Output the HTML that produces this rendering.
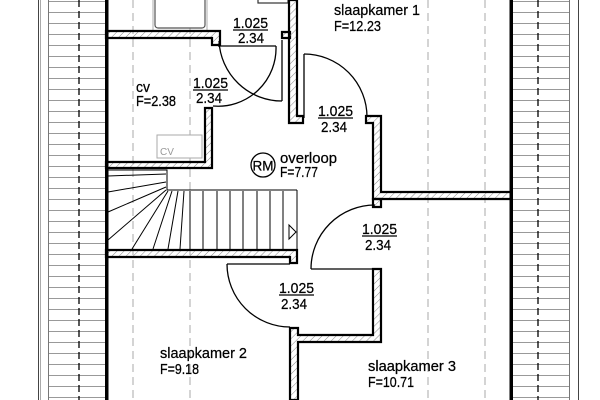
<!DOCTYPE html>
<html><head><meta charset="utf-8"><style>
html,body{margin:0;padding:0;background:#fff}
svg{display:block}
text{font-family:"Liberation Sans",sans-serif;font-size:15px;fill:#000;stroke:#000;stroke-width:0.25}
</style></head><body>
<svg width="600" height="400" viewBox="0 0 600 400" xmlns="http://www.w3.org/2000/svg">
<defs>
<pattern id="rib" width="10" height="11" patternUnits="userSpaceOnUse" y="1">
<line x1="0" y1="0.5" x2="10" y2="0.5" stroke="#999" stroke-width="1"/>
</pattern>
<pattern id="h" width="5" height="5" patternUnits="userSpaceOnUse" patternTransform="rotate(45)">
<line x1="0" y1="0" x2="0" y2="5" stroke="#888" stroke-width="1"/>
</pattern>
</defs>
<rect width="600" height="400" fill="#fff"/>
<line x1="38.5" y1="0" x2="38.5" y2="400" stroke="#444" stroke-width="1"/>
<line x1="40.5" y1="0" x2="40.5" y2="400" stroke="#aaa" stroke-width="1"/>
<rect x="48" y="0" width="58" height="400" fill="url(#rib)"/>
<line x1="48.5" y1="0" x2="48.5" y2="400" stroke="#777" stroke-width="1"/>
<line x1="79" y1="0" x2="79" y2="400" stroke="#000" stroke-width="1.3" stroke-dasharray="7,4"/>
<rect x="513" y="0" width="56" height="400" fill="url(#rib)"/>
<line x1="569.5" y1="0" x2="569.5" y2="400" stroke="#777" stroke-width="1"/>
<line x1="578.5" y1="0" x2="578.5" y2="400" stroke="#444" stroke-width="1"/>
<line x1="538" y1="0" x2="538" y2="400" stroke="#000" stroke-width="1.3" stroke-dasharray="7,4"/>
<g stroke="#aaa" stroke-width="1" stroke-dasharray="8,5">
<line x1="133" y1="0" x2="133" y2="400"/><line x1="190" y1="0" x2="190" y2="400"/>
<line x1="428" y1="0" x2="428" y2="400"/><line x1="485" y1="0" x2="485" y2="400"/>
</g>
<rect x="155" y="-5" width="50" height="33" rx="3" fill="#fff" stroke="#555" stroke-width="1.2"/>
<rect x="153" y="-5" width="54" height="36" fill="none" stroke="#999" stroke-width="0.8"/>
<rect x="258" y="-3" width="30" height="6" fill="none" stroke="#333" stroke-width="1.2"/>
<g fill="url(#h)" stroke="#000" stroke-width="2.2">
<path d="M106,31 H220 V45 H212 V38 H106 Z"/>
<path d="M282,32 H290 V38 H282 Z"/>
<path d="M289,0 H297 V116 H303 V123 H289 Z"/>
<path d="M205,108 H212 V168 H106 V162 H205 Z"/>
<path d="M366,116 H381 V192 H511 V199 H373 V123 H366 Z"/>
<path d="M106,250 H297 V263 H290 V257 H106 Z"/>
<path d="M290,328 H298 V335 H373 V269 H381 V342 H298 V400 H290 Z"/>
<path d="M373,199 H381 V207 H373 Z"/>
</g>
<rect x="105" y="0" width="3.5" height="400" fill="#000"/>
<rect x="509.5" y="0" width="3.5" height="400" fill="#000"/>
<rect x="157" y="135" width="45" height="23" fill="#fff" stroke="#aaa" stroke-width="1"/>
<text x="160" y="155" style="fill:#999;stroke:none;font-size:10px">CV</text>
<g fill="none" stroke="#000" stroke-width="1.3">
<line x1="218" y1="46" x2="276" y2="46"/>
<path d="M276,46 A58,58 0 0 1 213,106"/>
<line x1="282" y1="40" x2="282" y2="101"/>
<path d="M219,41 A63,63 0 0 0 282,101"/>
<line x1="304" y1="54" x2="304" y2="118"/>
<path d="M304,54 A63,63 0 0 1 367,117"/>
<line x1="227" y1="264" x2="290" y2="264"/>
<path d="M227,264 A63,63 0 0 0 290,327"/>
<line x1="311" y1="269" x2="375" y2="269"/>
<path d="M311,269 A64,64 0 0 1 375,205"/>
</g>
<g fill="none" stroke="#000" stroke-width="1">
<polyline points="108,170 167,170 167,190 297,190"/>
<line x1="297" y1="190" x2="297" y2="250"/>
<line x1="108" y1="176" x2="166" y2="174"/>
<line x1="108" y1="192" x2="166" y2="182"/>
<line x1="108" y1="212" x2="166" y2="187"/>
<line x1="108" y1="240" x2="166" y2="190"/>
<line x1="132" y1="249" x2="168" y2="191"/>
<line x1="153" y1="249" x2="172" y2="191"/>
<line x1="168" y1="249" x2="178" y2="191"/>
<line x1="180" y1="249" x2="184" y2="191"/>
<line x1="190" y1="191" x2="190" y2="249"/>
<line x1="203" y1="191" x2="203" y2="249"/>
<line x1="217" y1="191" x2="217" y2="249"/>
<line x1="230" y1="191" x2="230" y2="249"/>
<line x1="243" y1="191" x2="243" y2="249"/>
<line x1="257" y1="191" x2="257" y2="249"/>
<line x1="270" y1="191" x2="270" y2="249"/>
<line x1="283" y1="191" x2="283" y2="249"/>
<path d="M289,225 L296,232 L289,239 Z"/>
</g>
<circle cx="263" cy="165" r="12" fill="none" stroke="#000" stroke-width="1.3"/>
<text x="252.5" y="170.5" textLength="21" lengthAdjust="spacingAndGlyphs" style="font-size:14px">RM</text>
<g>
<text x="233" y="28" textLength="35" lengthAdjust="spacingAndGlyphs">1.025</text><line x1="233" y1="30" x2="268" y2="30" stroke="#000" stroke-width="1.2"/><text x="238" y="43" textLength="26" lengthAdjust="spacingAndGlyphs">2.34</text>
<text x="193" y="88" textLength="35" lengthAdjust="spacingAndGlyphs">1.025</text><line x1="193" y1="90" x2="228" y2="90" stroke="#000" stroke-width="1.2"/><text x="196" y="103" textLength="26" lengthAdjust="spacingAndGlyphs">2.34</text>
<text x="318" y="116" textLength="35" lengthAdjust="spacingAndGlyphs">1.025</text><line x1="318" y1="118" x2="353" y2="118" stroke="#000" stroke-width="1.2"/><text x="321" y="132" textLength="26" lengthAdjust="spacingAndGlyphs">2.34</text>
<text x="362" y="234" textLength="35" lengthAdjust="spacingAndGlyphs">1.025</text><line x1="362" y1="236" x2="397" y2="236" stroke="#000" stroke-width="1.2"/><text x="365" y="250" textLength="26" lengthAdjust="spacingAndGlyphs">2.34</text>
<text x="279" y="293" textLength="35" lengthAdjust="spacingAndGlyphs">1.025</text><line x1="279" y1="295" x2="314" y2="295" stroke="#000" stroke-width="1.2"/><text x="281" y="309" textLength="26" lengthAdjust="spacingAndGlyphs">2.34</text>
<text x="136" y="92" textLength="14" lengthAdjust="spacingAndGlyphs">cv</text><text x="136" y="106" textLength="40" lengthAdjust="spacingAndGlyphs">F=2.38</text>
<text x="334" y="15" textLength="86" lengthAdjust="spacingAndGlyphs">slaapkamer 1</text><text x="334" y="31" textLength="47" lengthAdjust="spacingAndGlyphs">F=12.23</text>
<text x="280" y="163" textLength="57" lengthAdjust="spacingAndGlyphs">overloop</text><text x="280" y="177" textLength="38" lengthAdjust="spacingAndGlyphs">F=7.77</text>
<text x="160" y="358" textLength="87" lengthAdjust="spacingAndGlyphs">slaapkamer 2</text><text x="160" y="374" textLength="39" lengthAdjust="spacingAndGlyphs">F=9.18</text>
<text x="368" y="371" textLength="88" lengthAdjust="spacingAndGlyphs">slaapkamer 3</text><text x="368" y="387" textLength="46" lengthAdjust="spacingAndGlyphs">F=10.71</text>
</g>
</svg>
</body></html>
